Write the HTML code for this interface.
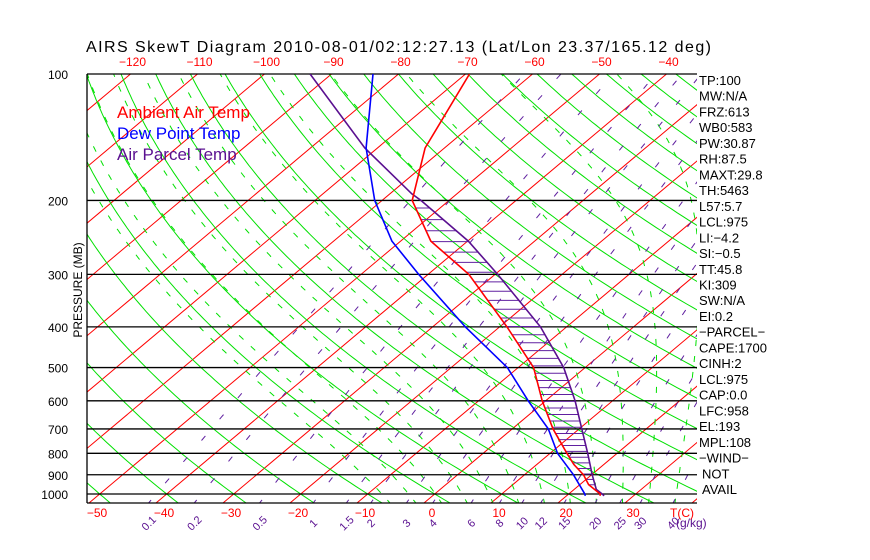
<!DOCTYPE html>
<html><head><meta charset="utf-8"><style>
html,body{margin:0;padding:0;background:#fff;}
svg{display:block;font-family:"Liberation Sans",sans-serif;}
</style></head><body>
<svg id="chart" width="870" height="560" viewBox="0 0 870 560" xmlns="http://www.w3.org/2000/svg">
<defs><clipPath id="plotclip"><rect x="87" y="74" width="610" height="429"/></clipPath></defs>
<text x="86" y="52" font-size="16" fill="#000" textLength="625">AIRS SkewT Diagram 2010-08-01/02:12:27.13 (Lat/Lon 23.37/165.12 deg)</text>
<g id="bg" clip-path="url(#plotclip)"></g>
<g id="frame"></g>
<g id="profiles" clip-path="url(#plotclip)"></g>
<g id="labels"></g>
<g>
<text x="117" y="118" font-size="17" fill="#ff0000">Ambient Air Temp</text>
<text x="117" y="139" font-size="17" fill="#0000ff">Dew Point Temp</text>
<text x="117" y="160" font-size="17" fill="#5a1090">Air Parcel Temp</text>
</g>
<text transform="translate(82,290) rotate(-90)" text-anchor="middle" font-size="12" fill="#000">PRESSURE (MB)</text>
</svg>
<script>
// ---- data ----
const pressureLevels = [100,200,300,400,500,600,700,800,900,1000];
const bottomTempTicks = [-50,-40,-30,-20,-10,0,10,20,30];
const topTempTicks = [-120,-110,-100,-90,-80,-70,-60,-50,-40];
const mixingRatios = [0.1,0.2,0.5,1,1.5,2,3,4,6,8,10,12,15,20,25,30,40];
const profilePressure = [100,150,200,250,300,400,500,600,700,800,850,900,950,1000,1010];
const ambientTemp = [-69.4,-62.9,-55.5,-45.5,-33.9,-18.9,-7.7,-0.5,6.1,12.5,15.5,18.8,21.3,24.7,25.0];
const dewPressure = [100,150,200,250,300,400,500,600,700,800,900,1000,1010];
const dewTemp = [-83.8,-71.7,-61.1,-51.3,-41.4,-25.1,-11.6,-2.6,5.4,11.1,17.3,22.4,22.8];
const parcelPressure = [100,150,193,200,250,300,400,500,600,700,800,900,975,1000,1010];
const parcelTemp = [-93.2,-71.9,-56.7,-54.2,-39.9,-29.6,-13.9,-3.2,4.4,10.4,15.6,20.1,23.3,25.0,25.6];
const sideLabels = ["TP:100","MW:N/A","FRZ:613","WB0:583","PW:30.87","RH:87.5","MAXT:29.8","TH:5463","L57:5.7","LCL:975","LI:\u22124.2","SI:\u22120.5","TT:45.8","KI:309","SW:N/A","EI:0.2","\u2212PARCEL\u2212","CAPE:1700","CINH:2","LCL:975","CAP:0.0","LFC:958","EL:193","MPL:108","\u2212WIND\u2212","NOT","AVAIL"];

// ---- axes ----
const NS="http://www.w3.org/2000/svg";
function yP(p){return 494+182.4*Math.log(p/1000);}
function xT(T,y){return 424+6.7*T+1.19*(503-y);}
function mk(tag,attrs,parent){const e=document.createElementNS(NS,tag);for(const k in attrs)e.setAttribute(k,attrs[k]);parent.appendChild(e);return e;}
const bg=document.getElementById('bg'),frame=document.getElementById('frame'),prof=document.getElementById('profiles'),lab=document.getElementById('labels');
function pathFrom(ps,ts){let d='';for(let i=0;i<ps.length;i++){const y=yP(ps[i]);d+=(i?'L':'M')+xT(ts[i],y).toFixed(1)+','+y.toFixed(1);}return d;}
const pgrid=[];for(let lp=Math.log(1060);lp>=Math.log(95);lp-=0.02)pgrid.push(Math.exp(lp));

// isotherms
for(let T=-170;T<=50;T+=10){
  const l=mk('line',{x1:xT(T,503),y1:503,x2:xT(T,74),y2:74,stroke:'#ff0000','stroke-width':1},bg);
  
  
}
// dry adiabats
for(let th=-50;th<=200;th+=10){
  const ts=pgrid.map(p=>(th+273.15)*Math.pow(p/1000,0.286)-273.15);
  const e=mk('path',{d:pathFrom(pgrid,ts),fill:'none',stroke:'#00e000','stroke-width':1},bg);
  
  
}
// moist adiabats
function es(Tc){return 6.112*Math.exp(17.67*Tc/(Tc+243.5));}
for(let tw=-8;tw<=44;tw+=4){
  let T=tw+273.15;const ps=[],ts=[];
  let Td=T;
  for(let l=Math.log(1000);l<Math.log(1060);l+=0.01){const p=Math.exp(l);const rs=0.622*es(Td-273.15)/(p-es(Td-273.15));const g=(287*Td+2.5e6*rs)/(1004+2.5e6*2.5e6*rs*0.622/(287*Td*Td));Td+=g*0.01;}
  T=Td;
  for(let l=Math.log(1060);l>Math.log(95);l-=0.01){const p=Math.exp(l);ps.push(p);ts.push(T-273.15);const ee=Math.min(es(T-273.15),p*0.5);const rs=0.622*ee/(p-ee);const g=(287*T+2.5e6*rs)/(1004+2.5e6*2.5e6*rs*0.622/(287*T*T));T-=g*0.01;}
  const e=mk('path',{d:pathFrom(ps,ts),fill:'none',stroke:'#00e000','stroke-width':1,'stroke-dasharray':'6 10'},bg);
  
  
}
// mixing ratio lines
function tFromW(w,p){const e=w*p/(622+w);const a=Math.log(e/6.112);return 243.5*a/(17.67-a);}
mixingRatios.forEach(w=>{
  const ps=pgrid.filter(p=>p>=100);const ts=ps.map(p=>tFromW(w,p));
  const e=mk('path',{d:pathFrom(ps,ts),fill:'none',stroke:'#6020a0','stroke-width':1,'stroke-dasharray':'6 22'},bg);
  
  
  const x=xT(tFromW(w,1050),503);
  const t=mk('text',{x:x,y:527,'font-size':11,fill:'#5a1090','text-anchor':'middle',transform:`rotate(-45 ${x} 523)`},lab);
  t.textContent=String(w);
  
  
});
const gk=mk('text',{x:676,y:527,'font-size':12,fill:'#5a1090'},lab);gk.textContent='(g/kg)';



// pressure lines & labels
pressureLevels.forEach(p=>{
  const y=yP(p);
  const l=mk('line',{x1:87,y1:y,x2:697,y2:y,stroke:'#000','stroke-width':1.3},frame);
  
  
  const t=mk('text',{x:68,y:y+5,'font-size':12,'text-anchor':'end',fill:'#000'},lab);t.textContent=p;
  
  
});
const bl=mk('line',{x1:87,y1:503,x2:697,y2:503,stroke:'#000','stroke-width':1.3},frame);


const lb=mk('line',{x1:87,y1:74,x2:87,y2:503,stroke:'#000','stroke-width':1.3},frame);



bottomTempTicks.forEach(T=>{
  const t=mk('text',{x:xT(T,503)+8,y:517,'font-size':12,'text-anchor':'middle',fill:'#ff0000'},lab);t.textContent=String(T).replace('-','\u2212');
  
  
});
const tc=mk('text',{x:670,y:517,'font-size':12,fill:'#ff0000'},lab);tc.textContent='T(C)';


topTempTicks.forEach(T=>{
  const t=mk('text',{x:xT(T,74)+2,y:66,'font-size':12,'text-anchor':'middle',fill:'#ff0000'},lab);t.textContent=String(T).replace('-','\u2212');
  
  
});

// side labels
sideLabels.forEach((s,i)=>{
  const y=80+i*(409/26);
  const t=mk('text',{x:(s==='NOT'||s==='AVAIL')?702:699,y:y+5,'font-size':13,fill:'#000'},lab);t.textContent=s;
  
  
});

// hatching between ambient and parcel
function interpT(ps,ts,p){for(let i=0;i<ps.length-1;i++){if(p>=ps[i]&&p<=ps[i+1]){const f=Math.log(p/ps[i])/Math.log(ps[i+1]/ps[i]);return ts[i]+f*(ts[i+1]-ts[i]);}}return null;}
for(let y=208;y<=488;){
  const p=1000*Math.exp((y-494)/182.4);
  const a=interpT(profilePressure,ambientTemp,p),b=interpT(parcelPressure,parcelTemp,p);
  if(a!==null&&b!==null&&b>a){
    const h=mk('line',{x1:xT(a,y),y1:y,x2:xT(b,y),y2:y,stroke:'#6020a0','stroke-width':1},prof);
    
    
  }
  y+=Math.max(3.5,11*Math.pow(p/230,-0.52));
}
const pa=mk('path',{d:pathFrom(parcelPressure,parcelTemp),fill:'none',stroke:'#5a1090','stroke-width':1.6},prof);


const am=mk('path',{d:pathFrom(profilePressure,ambientTemp),fill:'none',stroke:'#ff0000','stroke-width':1.6},prof);


const dw=mk('path',{d:pathFrom(dewPressure,dewTemp),fill:'none',stroke:'#0000ff','stroke-width':1.6},prof);


</script>
</body></html>
